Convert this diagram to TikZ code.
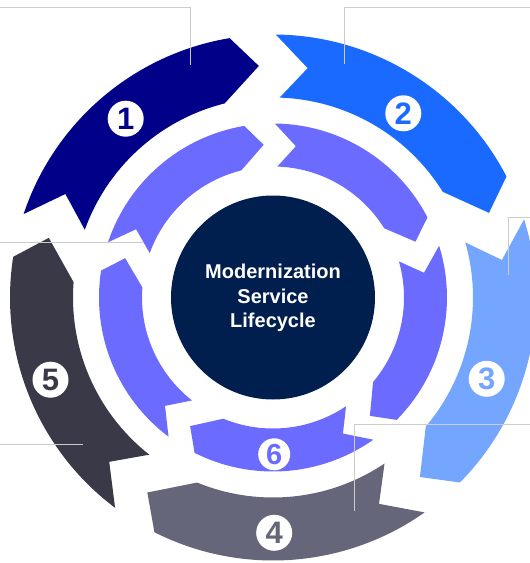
\documentclass[tikz,border=0pt]{standalone}
\usepackage{fontspec}
\setmainfont{Liberation Sans}
\definecolor{cA}{HTML}{000088}
\definecolor{cB}{HTML}{1A6AFF}
\definecolor{cC}{HTML}{74A6FF}
\definecolor{cD}{HTML}{66667A}
\definecolor{cE}{HTML}{3A3947}
\definecolor{cIn}{HTML}{6B6BFF}
\definecolor{cHub}{HTML}{001E4E}
\definecolor{cLead}{HTML}{CCCCCC}
\newcommand\arcseg[5]{% #1 tail angle, #2 inner r, #3 outer r, #4 mid r, #5 colour
  \fill[#5] (#1:#3) arc[start angle=#1, end angle={#1-62}, radius=#3]
    -- ({#1-68}:#4) -- ({#1-57.5}:#2)
    arc[start angle={#1-57.5}, end angle={#1-1.3}, radius=#2]
    -- ({#1-8}:#4) -- cycle;}
\tikzset{
  numbadge/.style={circle, fill=white, minimum size=36pt, inner sep=0pt,
    font=\bfseries\fontsize{31}{31}\selectfont},
  leader/.style={draw=cLead, line width=0.9pt},
}
\begin{document}
\begin{tikzpicture}[x=1pt,y=1pt]
\useasboundingbox (-273,-265.5) rectangle (257,297.5);
% outer ring
\arcseg{161.5}{200pt}{263pt}{232pt}{cA}
\arcseg{89.4}{200pt}{263pt}{232pt}{cB}
\arcseg{17.3}{200pt}{263pt}{232pt}{cC}
\arcseg{-54.8}{200pt}{263pt}{232pt}{cD}
\arcseg{-126.9}{200pt}{263pt}{232pt}{cE}
% inner ring
\arcseg{161.5}{131pt}{174pt}{153pt}{cIn}
\arcseg{89.4}{131pt}{174pt}{153pt}{cIn}
\arcseg{17.3}{131pt}{174pt}{153pt}{cIn}
\arcseg{-54.8}{131pt}{174pt}{153pt}{cIn}
\arcseg{-126.9}{131pt}{174pt}{153pt}{cIn}
% hub
\node[circle, fill=cHub, minimum size=204pt, inner sep=0pt] (hub) at (0,0) {};
\node[text=white, align=center, font=\bfseries\fontsize{20}{24.2}\selectfont] (title) at (0,-0.5)
  {Modernization\\Service\\Lifecycle};
% badges
\node[numbadge, text=cA] (n1) at (-147.3,178.8) {1};
\node[numbadge, text=cB] (n2) at (130.3,184.2) {2};
\node[numbadge, text=cC] (n3) at (213.7,-81.3) {3};
\node[numbadge, text=cD] (n4) at (1.2,-235.3) {4};
\node[numbadge, text=cE] (n5) at (-222.5,-82.2) {5};
\node[numbadge, text=cIn, minimum size=32pt, font=\bfseries\fontsize{29}{29}\selectfont] (n6) at (1.2,-156.8) {6};
% leader lines
\coordinate (a1) at (-83,232.5); \coordinate (a2) at (-83,290.5); \coordinate (a3) at (-273,290.5);
\draw[leader] (a1) -- (a2) -- (a3);
\coordinate (b1) at (71,233.5); \coordinate (b2) at (71,290.5); \coordinate (b3) at (257,290.5);
\draw[leader] (b1) -- (b2) -- (b3);
\coordinate (c1) at (235.3,22.5); \coordinate (c2) at (235.3,79.8); \coordinate (c3) at (257,79.8);
\draw[leader] (c1) -- (c2) -- (c3);
\coordinate (d1) at (81.3,-213.2); \coordinate (d2) at (81.3,-126.5); \coordinate (d3) at (257,-126.5);
\draw[leader] (d1) -- (d2) -- (d3);
\coordinate (e1) at (-273,55.2); \coordinate (e2) at (-129.7,55.2);
\draw[leader] (e1) -- (e2);
\coordinate (f1) at (-273,-146.5); \coordinate (f2) at (-189.7,-146.5);
\draw[leader] (f1) -- (f2);
\end{tikzpicture}
\end{document}
